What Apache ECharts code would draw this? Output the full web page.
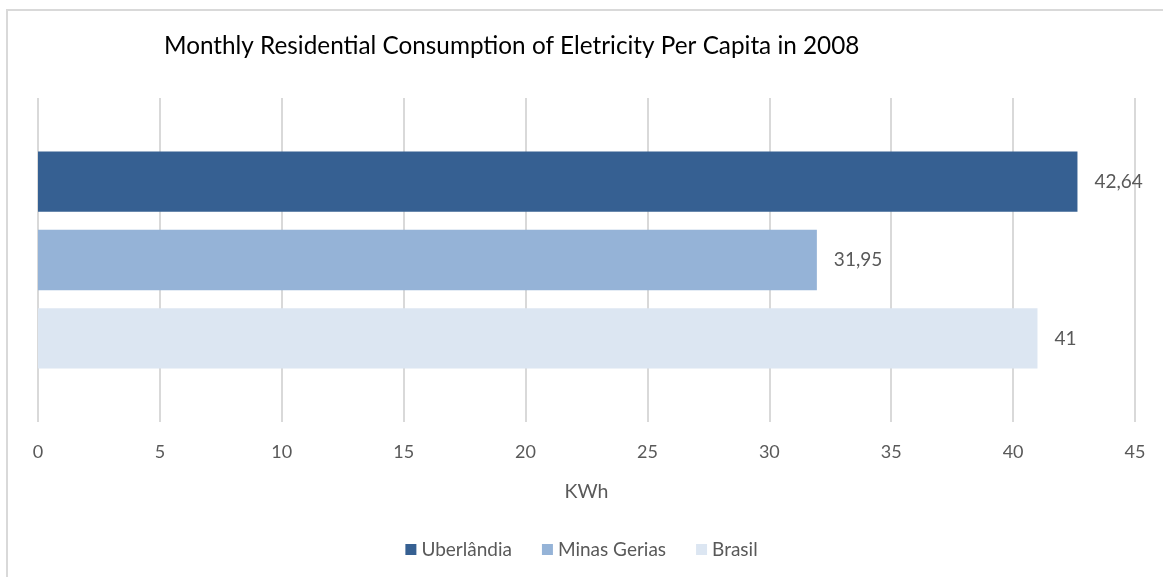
<!DOCTYPE html>
<html>
<head>
<meta charset="utf-8">
<style>
  html, body { margin: 0; padding: 0; background: #ffffff; }
  #chart { width: 1163px; height: 577px; }
</style>
<script src="https://cdn.jsdelivr.net/npm/echarts@6/dist/echarts.min.js"></script>
</head>
<body>
<div id="chart"></div>
<script>
// Monthly residential electricity consumption per capita, 2008 (kWh)
const seriesNames = ['Uberlândia', 'Minas Gerias', 'Brasil'];
const seriesValues = [42.64, 31.95, 41];
const seriesColors = ['#366092', '#95B3D7', '#DCE6F2'];
const categories = [''];

const FONT = 'Lato, "Open Sans", sans-serif';

const chart = echarts.init(document.getElementById('chart'), null, { renderer: 'canvas' });

const series = seriesNames.map((name, i) => ({
  name: name,
  type: 'bar',
  data: [seriesValues[i]],
  barGap: '30%',
  barCategoryGap: '33%',
  itemStyle: { color: seriesColors[i] },
  label: {
    show: true,
    position: 'right',
    distance: 17,
    color: '#595959',
    fontFamily: FONT,
    fontSize: 19,
    formatter: p => String(p.value).replace('.', ',')
  }
}));

chart.setOption({
  animation: false,
  backgroundColor: '#ffffff',
  graphic: [{
    type: 'rect',
    shape: { x: 7, y: 10, width: 1200, height: 600 },
    style: { fill: 'none', stroke: '#d9d9d9', lineWidth: 2 },
    silent: true,
    z: -1
  }],
  title: {
    text: 'Monthly Residential Consumption of Eletricity Per Capita in 2008',
    left: 159,
    top: 29,
    textStyle: { fontFamily: FONT, fontSize: 24.3, fontWeight: 'normal', color: '#000000' }
  },
  legend: {
    top: 535,
    left: 'center',
    itemWidth: 11,
    itemHeight: 11,
    itemGap: 30,
    icon: 'rect',
    textStyle: { fontFamily: FONT, fontSize: 19, color: '#595959' },
    data: seriesNames
  },
  grid: { left: 38, right: 28, top: 98, bottom: 155, containLabel: false },
  xAxis: {
    type: 'value',
    min: 0,
    max: 45,
    interval: 5,
    name: 'KWh',
    nameLocation: 'middle',
    nameGap: 60,
    nameTextStyle: { fontFamily: FONT, fontSize: 19.5, color: '#595959' },
    axisLine: { show: false },
    axisTick: { show: false },
    axisLabel: { fontFamily: FONT, fontSize: 18, color: '#595959', margin: 21 },
    splitLine: { show: true, lineStyle: { color: '#d9d9d9', width: 2 } }
  },
  yAxis: {
    type: 'category',
    data: categories,
    inverse: true,
    axisLine: { show: false },
    axisTick: { show: false },
    axisLabel: { show: false }
  },
  series: series
});
</script>
</body>
</html>
